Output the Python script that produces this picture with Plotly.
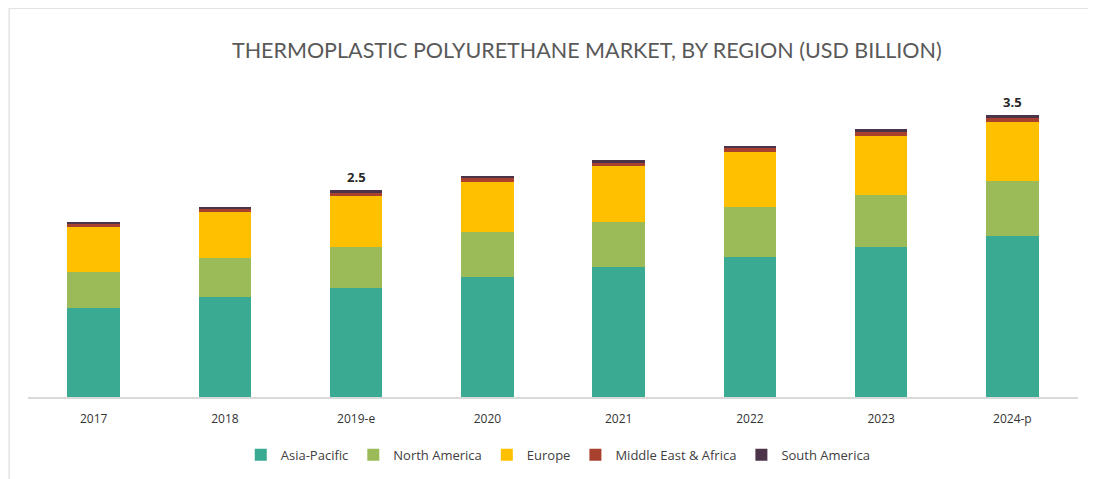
import plotly.graph_objects as go

years = ["2017", "2018", "2019-e", "2020", "2021", "2022", "2023", "2024-p"]
asia_pacific = [1.10, 1.24, 1.35, 1.49, 1.61, 1.74, 1.86, 2.00]
north_america = [0.45, 0.48, 0.51, 0.56, 0.56, 0.62, 0.65, 0.68]
europe = [0.56, 0.57, 0.63, 0.62, 0.69, 0.68, 0.73, 0.73]
middle_east_africa = [0.04, 0.04, 0.045, 0.045, 0.045, 0.045, 0.045, 0.05]
south_america = [0.025, 0.025, 0.03, 0.03, 0.03, 0.03, 0.04, 0.04]
total_labels = ["", "", "2.5", "", "", "", "", "3.5"]

series = [
    ("Asia-Pacific", asia_pacific, "#3aaa92"),
    ("North America", north_america, "#9bbb59"),
    ("Europe", europe, "#ffc000"),
    ("Middle East & Africa", middle_east_africa, "#a8412e"),
    ("South America", south_america, "#4b3449"),
]

fig = go.Figure()
for name, vals, col in series:
    fig.add_trace(go.Bar(x=years, y=vals, name=name, marker=dict(color=col, line=dict(width=0))))

totals = [sum(v) for v in zip(asia_pacific, north_america, europe, middle_east_africa, south_america)]
for yr, tot, lab in zip(years, totals, total_labels):
    if lab:
        fig.add_annotation(x=yr, y=tot, text="<b>%s</b>" % lab, showarrow=False,
                           yanchor="bottom", yshift=2,
                           font=dict(family="Open Sans", size=13, color="#262626"))

line_col = "#e3e3e3"
for x0, y0, x1, y1 in [(-0.018, 1.226, 1.013, 1.226), (-0.018, 1.226, -0.018, -0.3), (1.013, 1.226, 1.013, -0.3)]:
    fig.add_shape(type="line", xref="paper", yref="paper", x0=x0, y0=y0, x1=x1, y1=y1,
                  line=dict(color=line_col, width=1.5))

fig.update_layout(
    barmode="stack",
    bargap=0.6,
    width=1088, height=471,
    margin=dict(l=20, r=18, t=72, b=82, autoexpand=False),
    paper_bgcolor="white", plot_bgcolor="white",
    title=dict(text="THERMOPLASTIC POLYURETHANE MARKET, BY REGION (USD BILLION)",
               x=0.532, xanchor="center", y=0.91, yanchor="middle",
               font=dict(family="Lato", size=21.5, color="#595959")),
    legend=dict(orientation="h", x=0.505, xanchor="center", y=-0.135, yanchor="top",
                font=dict(family="Open Sans", size=13, color="#404040"),
                itemwidth=30, traceorder="normal"),
    xaxis=dict(showline=True, linecolor="#d9d9d9", linewidth=2, ticks="",
               ticklabelstandoff=10, automargin=False,
               tickfont=dict(family="Open Sans", size=12, color="#333333"), showgrid=False),
    yaxis=dict(range=[0, 3.93], visible=False, showgrid=False),
    showlegend=True,
)

fig.write_html("out.html")
